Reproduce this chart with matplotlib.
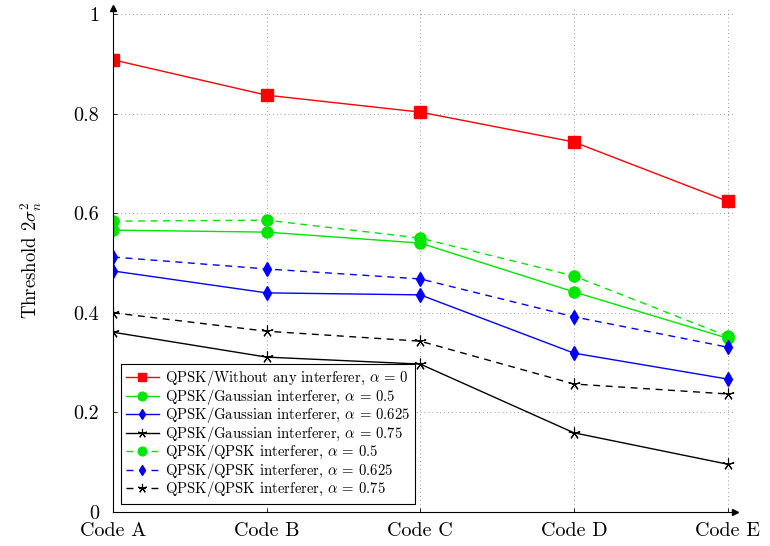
import numpy as np
import matplotlib
matplotlib.use("Agg")
import matplotlib.pyplot as plt

plt.rcParams['font.family'] = 'serif'
plt.rcParams['font.serif'] = ['cmr10', 'DejaVu Serif']
plt.rcParams['mathtext.fontset'] = 'cm'
plt.rcParams['axes.formatter.use_mathtext'] = True

codes = ["Code A", "Code B", "Code C", "Code D", "Code E"]

# threshold values
no_interf = [0.908, 0.837, 0.803, 0.743, 0.624]
gauss_050 = [0.566, 0.562, 0.540, 0.442, 0.349]
gauss_0625 = [0.484, 0.440, 0.436, 0.319, 0.267]
gauss_075 = [0.361, 0.311, 0.297, 0.159, 0.096]
qpsk_050 = [0.584, 0.586, 0.550, 0.474, 0.353]
qpsk_0625 = [0.512, 0.488, 0.468, 0.392, 0.331]
qpsk_075 = [0.400, 0.363, 0.343, 0.257, 0.237]

x = np.arange(len(codes))
star = (5, 2, 0)
dash = (0, (5, 4))

fig = plt.figure(figsize=(7.7, 5.46), dpi=100)
ax = fig.add_axes([0.1468, 0.0623, 0.808, 0.923])

ax.plot(x, no_interf, color="red", lw=1.0, marker="s", ms=8,
        label=r"QPSK/Without any interferer, $\alpha$ = 0")
ax.plot(x, gauss_050, color="#00e600", lw=1.0, marker="o", ms=8,
        label=r"QPSK/Gaussian interferer, $\alpha$ = 0.5")
ax.plot(x, gauss_0625, color="blue", lw=1.0, marker="d", ms=7,
        label=r"QPSK/Gaussian interferer, $\alpha$ = 0.625")
ax.plot(x, gauss_075, color="black", lw=1.0, marker=star, ms=8.5, mew=0.8,
        label=r"QPSK/Gaussian interferer, $\alpha$ = 0.75")
ax.plot(x, qpsk_050, color="#00e600", lw=1.0, ls=dash, marker="o", ms=8,
        label=r"QPSK/QPSK interferer, $\alpha$ = 0.5")
ax.plot(x, qpsk_0625, color="blue", lw=1.0, ls=dash, marker="d", ms=7,
        label=r"QPSK/QPSK interferer, $\alpha$ = 0.625")
ax.plot(x, qpsk_075, color="black", lw=1.0, ls=dash, marker=star, ms=8.5, mew=0.8,
        label=r"QPSK/QPSK interferer, $\alpha$ = 0.75")

ax.set_xlim(0, 4.05)
ax.set_ylim(0, 1.012)
ax.set_xticks(x)
ax.set_xticklabels(codes, fontsize=14.5)
ax.set_yticks([0, 0.2, 0.4, 0.6, 0.8, 1.0])
ax.set_yticklabels(["0", "0.2", "0.4", "0.6", "0.8", "1"], fontsize=14.5)
ax.tick_params(direction="in", length=3, width=0.6)
ax.tick_params(axis="x", pad=7)
ax.tick_params(axis="y", pad=10)
ax.set_ylabel(r"Threshold $2\sigma_n^2$", fontsize=13.5, labelpad=21)

ax.grid(True, ls=(0, (1, 3)), color="#999999", lw=0.7)
for s in ["top", "right"]:
    ax.spines[s].set_visible(False)
ax.spines["left"].set_linewidth(0.8)
ax.spines["bottom"].set_linewidth(0.8)
ax.plot(1, 0, ">k", ms=4, transform=ax.transAxes, clip_on=False)
ax.plot(0, 1, "^k", ms=4, transform=ax.transAxes, clip_on=False)

leg = ax.legend(loc="lower left", bbox_to_anchor=(0.0, 0.0), fontsize=10.6,
                fancybox=False, framealpha=1, edgecolor="black",
                handlelength=2.3, labelspacing=-0.1, borderpad=0.3,
                handletextpad=0.4, borderaxespad=0.55, markerscale=0.78)
leg.get_frame().set_linewidth(0.8)

fig.savefig("out.png", dpi=100)
